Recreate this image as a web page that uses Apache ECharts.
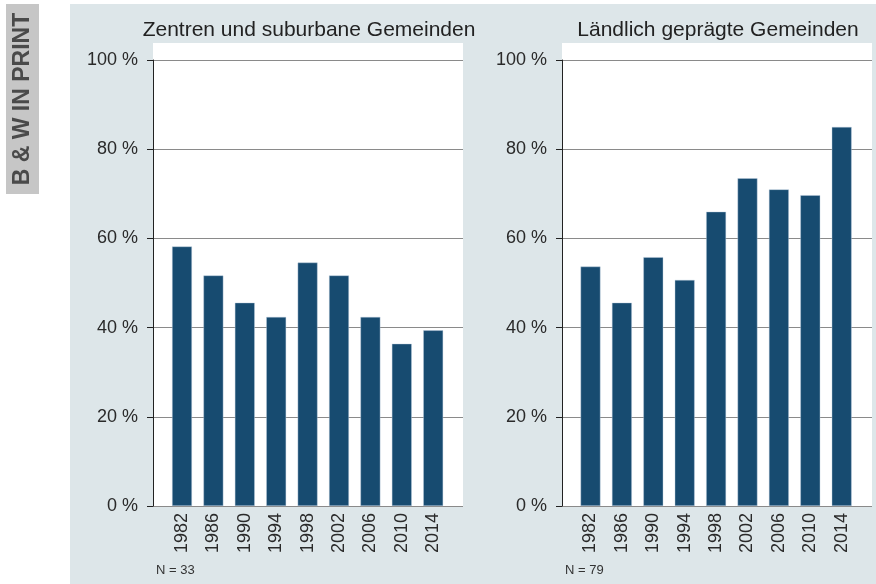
<!DOCTYPE html>
<html>
<head>
<meta charset="utf-8">
<script src="https://cdn.jsdelivr.net/npm/echarts@6/dist/echarts.min.js"></script>
<style>
  html, body { margin: 0; padding: 0; background: #fff; }
  #chart { width: 876px; height: 584px; }
</style>
</head>
<body>
<div id="chart"></div>
<script>
// Jahre (Kategorien)
const years = ['1982', '1986', '1990', '1994', '1998', '2002', '2006', '2010', '2014'];
// Anteile in %
const zentren = [58.2, 51.7, 45.6, 42.4, 54.6, 51.7, 42.4, 36.4, 39.4];
const laendlich = [53.7, 45.6, 55.8, 50.7, 66.0, 73.5, 71.0, 69.7, 85.0];
const panelTitles = ['Zentren und suburbane Gemeinden', 'Ländlich geprägte Gemeinden'];
const panelN = ['N = 33', 'N = 79'];

const FONT = 'Liberation Sans, Arial, sans-serif';
const barColor = '#174b70';

// Rahmen der beiden Panels
const panels = [
  { plotLeft: 153, bandLeft: 166.3 },
  { plotLeft: 562, bandLeft: 574.8 }
];
const plotW = 310, bandW = 282.6, plotTop = 60, plotH = 446;

const grids = [], xAxes = [], yAxes = [], series = [], titles = [];
const graphics = [
  { type: 'rect', shape: { x: 70, y: 4, width: 806, height: 580 }, style: { fill: '#dde6e9' }, z: -10 },
  { type: 'rect', shape: { x: 6, y: 4, width: 33, height: 190 }, style: { fill: '#c6c6c6' }, z: -10 },
  {
    type: 'text', x: 23, y: 99, rotation: Math.PI / 2,
    style: { text: 'B & W IN PRINT', fill: '#4a4a4a', font: 'bold 23px ' + FONT, align: 'center', verticalAlign: 'middle' }
  }
];

panels.forEach((p, i) => {
  const data = i === 0 ? zentren : laendlich;

  // weisser Hintergrund
  graphics.push({ type: 'rect', shape: { x: p.plotLeft, y: 43, width: plotW, height: 463 }, style: { fill: '#fff' }, z: -5 });
  graphics.push({
    type: 'text', x: p.plotLeft + 3, y: 570,
    style: { text: panelN[i], fill: '#333', font: '13px ' + FONT, align: 'left', verticalAlign: 'middle' }
  });

  titles.push({
    text: panelTitles[i], left: p.plotLeft + plotW / 2 + 1, top: 20, textAlign: 'center', padding: 0,
    textStyle: { fontSize: 21, fontWeight: 'normal', color: '#222', fontFamily: FONT }
  });

  // aeusseres Grid: y-Achse mit Gitterlinien
  const g0 = grids.length;
  grids.push({ left: p.plotLeft, top: plotTop, width: plotW, height: plotH });
  xAxes.push({ gridIndex: g0, type: 'value', show: false });
  yAxes.push({
    gridIndex: g0, type: 'value', min: 0, max: 100, interval: 20,
    axisLine: { show: true, lineStyle: { color: '#222', width: 1 } },
    axisTick: { show: true, length: 6, lineStyle: { color: '#222' } },
    axisLabel: { formatter: '{value} %', fontSize: 18, color: '#2a2a2a', fontFamily: FONT, margin: 15 },
    splitLine: { show: true, lineStyle: { color: '#8a8a8a', width: 1 } }
  });

  // inneres Grid: Balken
  const g1 = grids.length;
  grids.push({ left: p.bandLeft, top: plotTop, width: bandW, height: plotH });
  xAxes.push({
    gridIndex: g1, type: 'category', data: years,
    axisLine: { show: false }, axisTick: { show: false },
    axisLabel: { rotate: 90, fontSize: 18, color: '#2a2a2a', fontFamily: FONT, margin: 7, interval: 0 }
  });
  yAxes.push({ gridIndex: g1, type: 'value', min: 0, max: 100, show: false, splitLine: { show: false } });

  series.push({
    type: 'bar', xAxisIndex: g1, yAxisIndex: g1, data: data, barWidth: 20,
    itemStyle: { color: barColor, borderColor: 'rgba(190,208,224,0.7)', borderWidth: 0.6 },
    silent: true
  });
});

const chart = echarts.init(document.getElementById('chart'), null, { renderer: 'canvas' });
chart.setOption({
  animation: false,
  title: titles,
  grid: grids,
  xAxis: xAxes,
  yAxis: yAxes,
  series: series,
  graphic: graphics
});
</script>
</body>
</html>
